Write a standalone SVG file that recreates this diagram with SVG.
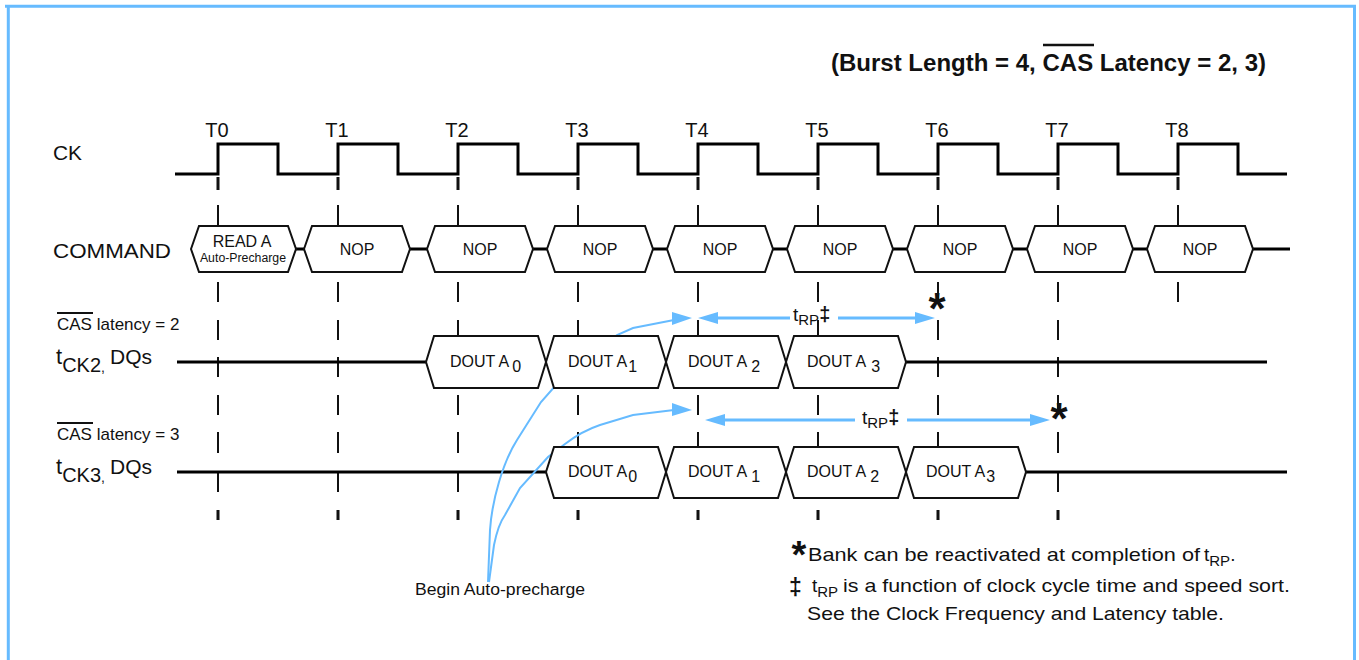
<svg xmlns="http://www.w3.org/2000/svg" width="1359" height="660" viewBox="0 0 1359 660">
<style>
text{font-family:"Liberation Sans",Arial,sans-serif;fill:#111}
.sig{fill:none;stroke:#000;stroke-width:3}
.box{fill:#fff;stroke:#111;stroke-width:2;stroke-linejoin:miter}
.bt{font-size:16px;text-anchor:middle}
.bs{font-size:12.3px;text-anchor:middle}
.dq{font-size:16px}
.blue{fill:none;stroke:#66bbff;stroke-width:3}
.curve{fill:none;stroke:#66bbff;stroke-width:2}
.head{fill:#66bbff}
.frame{stroke:#66bbff;stroke-width:3;fill:none}
.lbl{font-size:20px}
.tl{font-size:20px;text-anchor:middle}
.ov{stroke:#111;stroke-width:2}
.star{font-weight:bold;text-anchor:middle}
</style>
<defs>
<g id="vd" stroke="#111" fill="none">
<path d="M0,177V190M0,510V520" stroke-width="3"/>
<path d="M0,205V226M0,282V302M0,320V340M0,357V377M0,395V415M0,432V453M0,473V492" stroke-width="2"/>
</g>
<g id="vd8" stroke="#111" fill="none">
<path d="M0,177V190" stroke-width="3"/>
<path d="M0,205V226M0,282V302" stroke-width="2"/>
</g>
</defs>
<rect width="1359" height="660" fill="#fff"/>
<g id="frame" class="frame">
<path d="M5,6.3H1356M8.3,5V660M1354.5,5V660"/>
</g>
<g id="title">
<text x="831" y="71" font-size="23.5" font-weight="bold" textLength="435" lengthAdjust="spacingAndGlyphs">(Burst Length = 4, CAS Latency = 2, 3)</text>
<line x1="1043" y1="45" x2="1094" y2="45" stroke="#111" stroke-width="2.5"/>
</g>
<g id="labels">
<text class="lbl" x="53" y="160" textLength="29" lengthAdjust="spacingAndGlyphs">CK</text>
<text class="lbl" x="53" y="258" textLength="118" lengthAdjust="spacingAndGlyphs">COMMAND</text>
<text x="57" y="330" font-size="17">CAS latency = 2</text>
<line class="ov" x1="57" y1="313" x2="93" y2="313"/>
<text x="57" y="440" font-size="17">CAS latency = 3</text>
<line class="ov" x1="57" y1="423" x2="93" y2="423"/>
<text x="56" y="364" font-size="22">t<tspan font-size="20" dy="8">CK2</tspan><tspan font-size="14" dy="0">,</tspan><tspan x="110" dy="-8" font-size="21">DQs</tspan></text>
<text x="56" y="474" font-size="22">t<tspan font-size="20" dy="8">CK3</tspan><tspan font-size="14" dy="0">,</tspan><tspan x="110" dy="-8" font-size="21">DQs</tspan></text>
</g>
<g id="clock-labels">
<text class="tl" x="217" y="137">T0</text>
<text class="tl" x="337" y="137">T1</text>
<text class="tl" x="457" y="137">T2</text>
<text class="tl" x="577" y="137">T3</text>
<text class="tl" x="697" y="137">T4</text>
<text class="tl" x="817" y="137">T5</text>
<text class="tl" x="937" y="137">T6</text>
<text class="tl" x="1057" y="137">T7</text>
<text class="tl" x="1177" y="137">T8</text>
</g>
<g id="gridlines">
<use href="#vd" x="218"/><use href="#vd" x="338"/><use href="#vd" x="458"/><use href="#vd" x="578"/>
<use href="#vd" x="698"/><use href="#vd" x="818"/><use href="#vd" x="938"/><use href="#vd" x="1058"/>
<use href="#vd8" x="1178"/>
</g>
<g id="signals" class="sig">
<path d="M175,174H218V144H278V174H338V144H398V174H458V144H518V174H578V144H638V174H698V144H758V174H818V144H878V174H938V144H998V174H1058V144H1118V174H1178V144H1238V174H1287"/>
<path d="M296,249H304M410,249H427M533,249H547M653,249H667M773,249H787M893,249H907M1013,249H1027M1133,249H1147M1253,249H1290"/>
<path d="M177,362H426M906,362H1267"/>
<path d="M177,472H546M1026,472H1287"/>
</g>
<g id="connectors">
<path class="curve" d="M488,582L490,530C492,500 503,462 517,440L541,402L556,385L617,335L633,328L674,320"/>
<path class="curve" d="M489,582L494,545C497,530 500,522 505,515L520,488L548,457L565,444C578,434 588,429 600,425L633,415L674,410"/>
<polygon class="head" points="692,318 672,312 672,325"/>
<polygon class="head" points="692,410 672,403 672,416"/>
<path class="blue" d="M716,318H790M838,318H918"/>
<polygon class="head" points="698,318 718,312 718,324"/>
<polygon class="head" points="935,318 915,312 915,324"/>
<path class="blue" d="M720,420H855M907,420H1032"/>
<polygon class="head" points="705,420 725,414 725,426"/>
<polygon class="head" points="1050,420 1030,414 1030,426"/>
</g>
<g id="cmd-T0"><polygon class="box" points="191,249 199,226 288,226 296,249 288,272 199,272"/>
<text class="bt" x="242" y="247">READ A</text><text class="bs" x="243" y="262">Auto-Precharge</text></g>
<g id="cmd-T1"><polygon class="box" points="304,249 312,226 402,226 410,249 402,272 312,272"/><text class="bt" x="357" y="255">NOP</text></g>
<g id="cmd-T2"><polygon class="box" points="427,249 435,226 525,226 533,249 525,272 435,272"/><text class="bt" x="480" y="255">NOP</text></g>
<g id="cmd-T3"><polygon class="box" points="547,249 555,226 645,226 653,249 645,272 555,272"/><text class="bt" x="600" y="255">NOP</text></g>
<g id="cmd-T4"><polygon class="box" points="667,249 675,226 765,226 773,249 765,272 675,272"/><text class="bt" x="720" y="255">NOP</text></g>
<g id="cmd-T5"><polygon class="box" points="787,249 795,226 885,226 893,249 885,272 795,272"/><text class="bt" x="840" y="255">NOP</text></g>
<g id="cmd-T6"><polygon class="box" points="907,249 915,226 1005,226 1013,249 1005,272 915,272"/><text class="bt" x="960" y="255">NOP</text></g>
<g id="cmd-T7"><polygon class="box" points="1027,249 1035,226 1125,226 1133,249 1125,272 1035,272"/><text class="bt" x="1080" y="255">NOP</text></g>
<g id="cmd-T8"><polygon class="box" points="1147,249 1155,226 1245,226 1253,249 1245,272 1155,272"/><text class="bt" x="1200" y="255">NOP</text></g>
<g id="cl2-A0"><polygon class="box" points="426,362 434,336 538,336 546,362 538,388 434,388"/><text class="dq" x="450" y="367">DOUT A<tspan dx="3" dy="5">0</tspan></text></g>
<g id="cl2-A1"><polygon class="box" points="546,362 554,336 658,336 666,362 658,388 554,388"/><text class="dq" x="568" y="367">DOUT A<tspan dx="1" dy="5">1</tspan></text></g>
<g id="cl2-A2"><polygon class="box" points="666,362 674,336 778,336 786,362 778,388 674,388"/><text class="dq" x="688" y="367">DOUT A<tspan dx="4" dy="5">2</tspan></text></g>
<g id="cl2-A3"><polygon class="box" points="786,362 794,336 898,336 906,362 898,388 794,388"/><text class="dq" x="807" y="367">DOUT A<tspan dx="5" dy="5">3</tspan></text></g>
<g id="cl3-A0"><polygon class="box" points="546,472 554,447 658,447 666,472 658,498 554,498"/><text class="dq" x="568" y="477">DOUT A<tspan dx="1" dy="5">0</tspan></text></g>
<g id="cl3-A1"><polygon class="box" points="666,472 674,447 778,447 786,472 778,498 674,498"/><text class="dq" x="688" y="477">DOUT A<tspan dx="4" dy="5">1</tspan></text></g>
<g id="cl3-A2"><polygon class="box" points="786,472 794,447 898,447 906,472 898,498 794,498"/><text class="dq" x="807" y="477">DOUT A<tspan dx="4" dy="5">2</tspan></text></g>
<g id="cl3-A3"><polygon class="box" points="906,472 914,447 1018,447 1026,472 1018,498 914,498"/><text class="dq" x="926" y="477">DOUT A<tspan dx="1" dy="5">3</tspan></text></g>
<g id="trp-labels">
<text x="793" y="321" font-size="19">t<tspan font-size="15" dy="4">RP</tspan><tspan font-size="20" font-weight="bold" dy="-4">‡</tspan></text>
<text x="862" y="424" font-size="19">t<tspan font-size="15" dy="4">RP</tspan><tspan font-size="20" font-weight="bold" dy="-4">‡</tspan></text>
<text class="star" x="937" y="324" font-size="44">*</text>
<text class="star" x="1059" y="434" font-size="44">*</text>
</g>
<g id="notes">
<text x="415" y="595" font-size="16" textLength="170" lengthAdjust="spacingAndGlyphs">Begin Auto-precharge</text>
<text class="star" x="799" y="568" font-size="38">*</text>
<text x="808" y="561" font-size="19" textLength="392" lengthAdjust="spacingAndGlyphs">Bank can be reactivated at completion of</text>
<text x="1204" y="561" font-size="19">t<tspan font-size="15" dy="5">RP</tspan><tspan font-size="19" dy="-5">.</tspan></text>
<text x="789" y="595" font-size="23" font-weight="bold">‡</text>
<text x="812" y="592" font-size="19">t<tspan font-size="15" dy="5">RP</tspan></text>
<text x="843" y="592" font-size="19" textLength="447" lengthAdjust="spacingAndGlyphs">is a function of clock cycle time and speed sort.</text>
<text x="807" y="620" font-size="19" textLength="417" lengthAdjust="spacingAndGlyphs">See the Clock Frequency and Latency table.</text>
</g>
</svg>
